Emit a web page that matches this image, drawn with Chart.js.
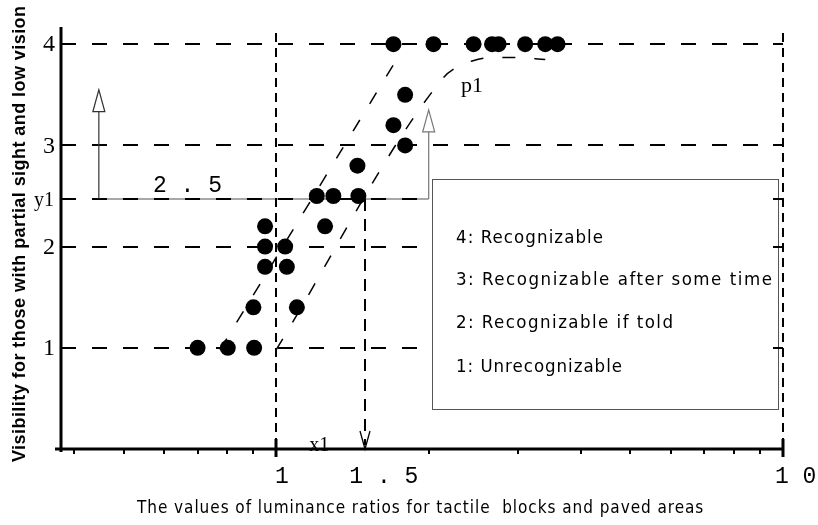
<!DOCTYPE html>
<html>
<head>
<meta charset="utf-8">
<title>Visibility vs luminance ratio</title>
<script src="https://cdn.jsdelivr.net/npm/chart.js@4.4.1/dist/chart.umd.min.js"></script>
<style>
  html, body { margin: 0; padding: 0; background: #fff; }
  #wrap { width: 818px; height: 525px; }
</style>
</head>
<body>
<div id="wrap"><canvas id="chart" width="818" height="525"></canvas></div>
<script>
// observed points: luminance ratio (log axis) vs visibility score
const ratios = [0.70, 0.803, 0.905, 0.902, 1.099, 0.951, 1.05, 0.951, 1.042, 0.951, 1.249,
                1.203, 1.297, 1.453, 1.447, 1.797, 1.704, 1.797,
                1.704, 2.044, 2.452, 2.667, 2.747, 3.10, 3.396, 3.591];
const scores = [1, 1, 1, 1.4, 1.4, 1.8, 1.8, 2, 2, 2.2, 2.2,
                2.5, 2.5, 2.5, 2.8, 3, 3.2, 3.5,
                4, 4, 4, 4, 4, 4, 4, 4];

// dashed band, left edge
const bandLeftX = [0.775, 1.749];
const bandLeftY = [0.98, 3.89];
// dashed band, right edge, bending into curve p1
const curveP1X = [1.0, 2.136, 2.277, 2.437, 2.644, 2.963, 3.396];
const curveP1Y = [0.98, 3.666, 3.775, 3.834, 3.867, 3.869, 3.849];

const yTicks = [1, 2, 3, 4];
const yTickLabels = ['1', '2', '3', '4'];
const xMinorTicks = [0.4, 0.5, 0.6, 0.7, 0.8, 0.9, 2, 3, 4, 5, 6, 7, 8, 9];
const xMajorTicks = [1, 10];
const x1 = 1.5;
const y1 = 2.47;
const spreadArrowX = [0.447, 2.0];     // the two up-arrows around the spread
const spreadArrowTip = [3.55, 3.35];
const levelLabels = ['4: Recognizable', '3: Recognizable after some time',
                     '2: Recognizable if told', '1: Unrecognizable'];

const toPoints = (xs, ys) => xs.map((v, i) => ({ x: v, y: ys[i] }));

// draw text stretched with letter spacing so it covers a given width
function spacedText(ctx, text, x, y, width) {
    ctx.letterSpacing = '0px';
    const w = ctx.measureText(text).width;
    const ls = (width - w) / Math.max(1, text.length - 1);
    ctx.letterSpacing = ls.toFixed(2) + 'px';
    ctx.fillText(text, x, y);
    ctx.letterSpacing = '0px';
}

function hLine(ctx, x0, x1_, y) {
    ctx.beginPath(); ctx.moveTo(x0, y); ctx.lineTo(x1_, y); ctx.stroke();
}
function vLine(ctx, x, y0, y1_) {
    ctx.beginPath(); ctx.moveTo(x, y0); ctx.lineTo(x, y1_); ctx.stroke();
}
function upArrow(ctx, x, yBase, yTip, color) {
    ctx.strokeStyle = color;
    ctx.lineWidth = 1.2;
    ctx.setLineDash([]);
    vLine(ctx, x, yBase, yTip + 22);
    ctx.beginPath();
    ctx.moveTo(x, yTip);
    ctx.lineTo(x - 6, yTip + 22);
    ctx.lineTo(x + 6, yTip + 22);
    ctx.closePath();
    ctx.stroke();
}

const decorations = {
    id: 'decorations',
    beforeDatasetsDraw(chart) {
        const { ctx, chartArea: a, scales: { x, y } } = chart;
        const py1 = y.getPixelForValue(y1);
        const ax0 = x.getPixelForValue(spreadArrowX[0]);
        const ax1 = x.getPixelForValue(spreadArrowX[1]);
        ctx.save();

        // grey bracket line at y1
        ctx.strokeStyle = '#8a8a8a';
        ctx.lineWidth = 1.5;
        hLine(ctx, ax0, ax1, py1);

        // horizontal dashed grid
        ctx.strokeStyle = '#000';
        ctx.lineWidth = 2;
        ctx.setLineDash([15, 16]);
        [...yTicks, y1].forEach(v => {
            hLine(ctx, a.left, a.right, Math.round(y.getPixelForValue(v)));
        });

        // vertical dashed lines at 1 and 10
        ctx.setLineDash([9, 6]);
        xMajorTicks.forEach(v => {
            vLine(ctx, Math.round(x.getPixelForValue(v)), a.top + 4, a.bottom);
        });

        // read-off line x1 down from y1
        const px1 = Math.round(x.getPixelForValue(x1));
        ctx.setLineDash([12, 8]);
        vLine(ctx, px1, py1, a.bottom - 4);
        ctx.setLineDash([]);
        ctx.lineWidth = 1.3;
        ctx.beginPath();
        ctx.moveTo(px1 - 5, a.bottom - 18);
        ctx.lineTo(px1, a.bottom);
        ctx.lineTo(px1 + 5, a.bottom - 18);
        ctx.stroke();

        // spread arrows
        upArrow(ctx, ax0, py1, y.getPixelForValue(spreadArrowTip[0]), '#333');
        upArrow(ctx, ax1, py1, y.getPixelForValue(spreadArrowTip[1]), '#777');

        ctx.restore();
    },
    afterDatasetsDraw(chart) {
        const { ctx, chartArea: a, scales: { x, y } } = chart;
        ctx.save();

        // legend box
        ctx.fillStyle = '#fff';
        ctx.fillRect(432, 179, 346, 230);
        ctx.strokeStyle = '#555';
        ctx.lineWidth = 1;
        ctx.strokeRect(432.5, 179.5, 346, 230);

        ctx.fillStyle = '#000';
        ctx.textAlign = 'left';
        ctx.textBaseline = 'alphabetic';
        ctx.font = '18.5px "Liberation Sans Narrow", "DejaVu Sans Condensed", sans-serif';
        const lineBase = [243, 285, 328, 372];
        const lineWidth = [147, 316, 217, 166];
        levelLabels.forEach((t, i) => spacedText(ctx, t, 456, lineBase[i], lineWidth[i]));

        // right edge ticks
        ctx.strokeStyle = '#000';
        ctx.lineWidth = 2;
        [...yTicks, y1].forEach(v => {
            hLine(ctx, a.right - 10, a.right, Math.round(y.getPixelForValue(v)));
        });

        // axes
        ctx.lineWidth = 3;
        hLine(ctx, a.left - 6, a.right + 1, a.bottom);
        vLine(ctx, a.left, a.top - 2, a.bottom + 3);
        ctx.lineWidth = 2;
        xMinorTicks.forEach(v => {
            vLine(ctx, Math.round(x.getPixelForValue(v)), a.bottom, a.bottom + 5);
        });
        ctx.lineWidth = 3;
        xMajorTicks.forEach(v => {
            vLine(ctx, Math.round(x.getPixelForValue(v)), a.bottom - 10, a.bottom + 8);
        });

        // y tick labels
        ctx.font = '24px "Liberation Serif", serif';
        ctx.textAlign = 'right';
        ctx.textBaseline = 'middle';
        yTicks.forEach((v, i) => ctx.fillText(yTickLabels[i], a.left - 6, y.getPixelForValue(v) + 1));

        ctx.textBaseline = 'alphabetic';
        ctx.font = '20px "Liberation Serif", serif';
        ctx.fillText('y1', a.left - 7, y.getPixelForValue(y1) + 7);
        ctx.textAlign = 'left';
        ctx.fillText('x1', x.getPixelForValue(x1) - 56, a.bottom + 2);
        ctx.font = '22px "Liberation Serif", serif';
        ctx.fillText('p1', 461, 92);

        // x tick labels
        ctx.font = '23px "Liberation Mono", monospace';
        ctx.fillText('1', x.getPixelForValue(1) - 1, 483);
        ctx.fillText('1 . 5', x.getPixelForValue(x1) - 16, 483);
        ctx.fillText('1 0', x.getPixelForValue(10) - 8, 483);
        ctx.fillText('2 . 5', 153, 192);

        // axis titles
        ctx.font = '17px "Liberation Sans Narrow", "DejaVu Sans Condensed", sans-serif';
        spacedText(ctx, 'The values of luminance ratios for tactile  blocks and paved areas', 137, 513, 566);

        ctx.translate(25, 234);
        ctx.rotate(-Math.PI / 2);
        ctx.font = 'bold 18px "Liberation Sans", Arial, sans-serif';
        spacedText(ctx, 'Visibility for those with partial sight and low vision', -228, 0, 456);

        ctx.restore();
    }
};

const ctx = document.getElementById('chart').getContext('2d');
new Chart(ctx, {
    type: 'scatter',
    data: {
        datasets: [
            {
                label: 'observations',
                data: toPoints(ratios, scores),
                backgroundColor: '#000',
                borderWidth: 0,
                pointRadius: 8,
                pointHoverRadius: 8
            },
            {
                label: 'band left',
                data: toPoints(bandLeftX, bandLeftY),
                showLine: true,
                borderColor: '#000',
                borderWidth: 1.5,
                borderDash: [13, 19],
                pointRadius: 0
            },
            {
                label: 'p1',
                data: toPoints(curveP1X, curveP1Y),
                showLine: true,
                borderColor: '#000',
                borderWidth: 1.5,
                borderDash: [13, 19],
                cubicInterpolationMode: 'monotone',
                pointRadius: 0
            }
        ]
    },
    options: {
        responsive: false,
        animation: false,
        devicePixelRatio: 1,
        layout: {
            padding: { left: 61, right: 35, top: 29, bottom: 76 }
        },
        plugins: {
            legend: { display: false },
            tooltip: { enabled: false }
        },
        scales: {
            x: {
                type: 'logarithmic',
                min: 0.3764,
                max: 10,
                display: false
            },
            y: {
                min: 0,
                max: 4.15,
                display: false
            }
        }
    },
    plugins: [decorations]
});
</script>
</body>
</html>
